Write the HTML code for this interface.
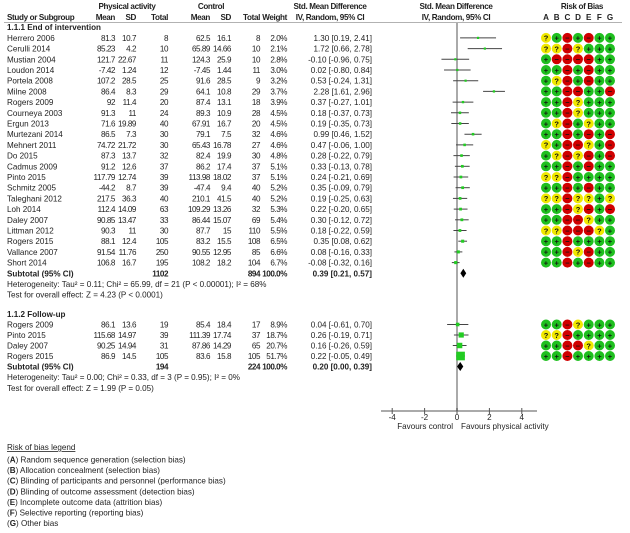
<!DOCTYPE html>
<html><head><meta charset="utf-8"><style>
html,body{margin:0;padding:0;background:#fff;}
svg{display:block;font-family:"Liberation Sans",Arial,sans-serif;}
text{font-size:8.1px;fill:#222;}
.b{font-weight:bold;}
.n{letter-spacing:-0.45px;}
.h{letter-spacing:-0.35px;}
</style></head><body>
<svg id="plot" width="630" height="533" viewBox="0 0 630 533" xmlns="http://www.w3.org/2000/svg"></svg>
<script>
const studies1 = ["Herrero 2006","Cerulli 2014","Mustian 2004","Loudon 2014","Portela 2008","Milne 2008","Rogers 2009","Courneya 2003","Ergun 2013","Murtezani 2014","Mehnert 2011","Do 2015","Cadmus 2009","Pinto 2015","Schmitz 2005","Taleghani 2012","Loh 2014","Daley 2007","Littman 2012","Rogers 2015","Vallance 2007","Short 2014"];
const paMean1 = ["81.3","85.23","121.7","-7.42","107.2","86.4","92","91.3","71.6","86.5","74.72","87.3","91.2","117.79","-44.2","217.5","112.4","90.85","90.3","88.1","91.54","106.8"];
const paSD1 = ["10.7","4.2","22.67","1.24","28.5","8.3","11.4","11","19.89","7.3","21.72","13.7","12.6","12.74","8.7","36.3","14.09","13.47","11","12.4","11.76","16.7"];
const paN1 = [8,10,11,12,25,29,20,24,40,30,30,32,37,39,39,40,63,33,30,105,250,195];
const cMean1 = ["62.5","65.89","124.3","-7.45","91.6","64.1","87.4","89.3","67.91","79.1","65.43","82.4","86.2","113.98","-47.4","210.1","109.29","86.44","87.7","83.2","90.55","108.2"];
const cSD1 = ["16.1","14.66","25.9","1.44","28.5","10.8","13.1","10.9","16.7","7.5","16.78","19.9","17.4","18.02","9.4","41.5","13.26","15.07","15","15.5","12.95","18.2"];
const cN1 = [8,10,10,11,9,29,18,28,20,32,27,30,37,37,40,40,32,69,110,108,85,104];
const weight1 = [2.0,2.1,2.8,3.0,3.2,3.7,3.9,4.5,4.5,4.6,4.6,4.8,5.1,5.1,5.2,5.2,5.3,5.4,5.5,6.5,6.6,6.7];
const smd1 = [1.30,1.72,-0.10,0.02,0.53,2.28,0.37,0.18,0.19,0.99,0.47,0.28,0.33,0.24,0.35,0.19,0.22,0.30,0.18,0.35,0.08,-0.08];
const lo1 = [0.19,0.66,-0.96,-0.80,-0.24,1.61,-0.27,-0.37,-0.35,0.46,-0.06,-0.22,-0.13,-0.21,-0.09,-0.25,-0.20,-0.12,-0.22,0.08,-0.16,-0.32];
const hi1 = [2.41,2.78,0.75,0.84,1.31,2.96,1.01,0.73,0.73,1.52,1.00,0.79,0.78,0.69,0.79,0.63,0.65,0.72,0.59,0.62,0.33,0.16];
const rob1 = ["?+-+-++","??-?+++","+----++","++-+-++","+?-+-++","++--++-","++-?+++","++-?+++","+?-+?++","++-+-+-","?+--?+-","+?-?-+-","++-+-++","??-++++","++-+-++","??-??+?","++-?-+-","++--?++","??---?+","++-++++","++-?-++","++-+-++"];
const total1 = {smd:0.39, lo:0.21, hi:0.57, pa:"1102", c:"894"};

const studies2 = ["Rogers 2009","Pinto 2015","Daley 2007","Rogers 2015"];
const paMean2 = ["86.1","115.68","90.25","86.9"];
const paSD2 = ["13.6","14.97","14.94","14.5"];
const paN2 = [19,39,31,105];
const cMean2 = ["85.4","111.39","87.86","83.6"];
const cSD2 = ["18.4","17.74","14.29","15.8"];
const cN2 = [17,37,65,105];
const weight2 = [8.9,18.7,20.7,51.7];
const smd2 = [0.04,0.26,0.16,0.22];
const lo2 = [-0.61,-0.19,-0.26,-0.05];
const hi2 = [0.70,0.71,0.59,0.49];
const rob2 = ["++-?+++","??-++++","++--?++","++-++++"];
const total2 = {smd:0.20, lo:0.00, hi:0.39, pa:"194", c:"224"};

const axisTicks = [-4,-2,0,2,4];
const robLetters = ["A","B","C","D","E","F","G"];
const legendItems = [["A","Random sequence generation (selection bias)"],["B","Allocation concealment (selection bias)"],["C","Blinding of participants and personnel (performance bias)"],["D","Blinding of outcome assessment (detection bias)"],["E","Incomplete outcome data (attrition bias)"],["F","Selective reporting (reporting bias)"],["G","Other bias"]];

const svg = document.getElementById('plot');
const NS = "http://www.w3.org/2000/svg";
function mk(tag, attrs, txt){ const e=document.createElementNS(NS,tag); for(const k in attrs) e.setAttribute(k,attrs[k]); if(txt!==undefined) e.textContent=txt; svg.appendChild(e); return e; }
function xs(v){ return 457 + v*16.2; }
function fmt(v){ return v.toFixed(2); }
function ci(s,l,h){ return fmt(s)+" ["+fmt(l)+", "+fmt(h)+"]"; }
function txt(x,y,s,anchor,name,cls){ const e=mk('text',{x:x,y:y,'text-anchor':anchor||'start'},s); if(cls) e.setAttribute('class',cls);
  
   return e; }
const colX = {pm:115, psd:136, pn:168, cm:210, csd:231, cn:260, w:287, ci:372};
const robX = [546,556.7,567.4,578,588.7,599.4,610];
const robColor = {"+":"#1fbf1f","-":"#d00000","?":"#f0e800"};
const robSym = {"+":"+","-":"\u2212","?":"?"};

txt(127,9,"Physical activity","middle","header-physical-activity","b h");
txt(211,9,"Control","middle","header-control","b h");
txt(330,9,"Std. Mean Difference","middle","header-smd","b h");
txt(456,9,"Std. Mean Difference","middle","header-smd-plot","b h");
txt(582,9,"Risk of Bias","middle","header-risk-of-bias","b h");
txt(7,20,"Study or Subgroup","start","header-study","b h");
[["Mean",colX.pm],["SD",colX.psd],["Total",colX.pn],["Mean",colX.cm],["SD",colX.csd],["Total",colX.cn],["Weight",colX.w]].forEach(h=>txt(h[1],20,h[0],"end","header-col","b h"));
txt(330,20,"IV, Random, 95% CI","middle","header-iv","b h");
txt(456,20,"IV, Random, 95% CI","middle","header-iv-plot","b h");
robLetters.forEach((L,i)=>txt(robX[i],20,L,"middle","rob-col-"+L.toLowerCase(),"b"));
const hl = mk('line',{x1:4,y1:22.5,x2:622,y2:22.5,stroke:'#999','stroke-width':0.8});



const zl = mk('line',{x1:xs(0),y1:23,x2:xs(0),y2:411,stroke:'#aaa','stroke-width':2});



function drawGroup(y0, step, title, st, pm, psd, pn, cm, csd, cn, w, s, l, h, rob, tot, het, test){
  txt(7,y0+3,title,"start","subgroup-title","b");
  st.forEach((name,i)=>{
    const y = y0 + step*(i+1);
    const b = y+3;
    txt(7,b,name,"start","study-name");
    txt(colX.pm,b,pm[i],"end","pa-mean","n");
    txt(colX.psd,b,psd[i],"end","pa-sd","n");
    txt(colX.pn,b,String(pn[i]),"end","pa-total","n");
    txt(colX.cm,b,cm[i],"end","control-mean","n");
    txt(colX.csd,b,csd[i],"end","control-sd","n");
    txt(colX.cn,b,String(cn[i]),"end","control-total","n");
    txt(colX.w,b,w[i].toFixed(1)+"%","end","weight","n");
    txt(colX.ci,b,ci(s[i],l[i],h[i]),"end","smd-ci");
    const ln = mk('line',{x1:xs(l[i]),y1:y,x2:xs(h[i]),y2:y,stroke:'#444','stroke-width':1});
    
    
    const sz = Math.max(2.2, 1.2*Math.sqrt(w[i]));
    const sq = mk('rect',{x:xs(s[i])-sz/2,y:y-sz/2,width:sz,height:sz,fill:'#22cc22'});
    
    
    for(let k=0;k<7;k++){
      const c = rob[i][k];
      const cc = mk('circle',{cx:robX[k],cy:y,r:5,fill:robColor[c]});
      
      
      const t = mk('text',{x:robX[k],y:y+2.8,'text-anchor':'middle',style:'font-size:7.5px;font-weight:bold;fill:#111'},robSym[c]);
      
      
    }
  });
  const yt = y0 + step*(st.length+1);
  txt(7,yt+3,"Subtotal (95% CI)","start","subtotal-label","b");
  txt(colX.pn,yt+3,tot.pa,"end","subtotal-pa","b n");
  txt(colX.cn,yt+3,tot.c,"end","subtotal-control","b n");
  txt(colX.w,yt+3,"100.0%","end","subtotal-weight","b n");
  txt(colX.ci,yt+3,ci(tot.smd,tot.lo,tot.hi),"end","subtotal-ci","b");
  const d = mk('polygon',{points:`${xs(tot.lo)},${yt} ${xs(tot.smd)},${yt-4.5} ${xs(tot.hi)},${yt} ${xs(tot.smd)},${yt+4.5}`,fill:'#000'});
  
  
  txt(7,yt+13.7,het,"start","heterogeneity");
  txt(7,yt+24.4,test,"start","overall-effect");
}
drawGroup(27.2,10.7,"1.1.1 End of intervention",studies1,paMean1,paSD1,paN1,cMean1,cSD1,cN1,weight1,smd1,lo1,hi1,rob1,total1,
  "Heterogeneity: Tau\u00b2 = 0.11; Chi\u00b2 = 65.99, df = 21 (P < 0.00001); I\u00b2 = 68%","Test for overall effect: Z = 4.23 (P < 0.0001)");
drawGroup(314,10.5,"1.1.2 Follow-up",studies2,paMean2,paSD2,paN2,cMean2,cSD2,cN2,weight2,smd2,lo2,hi2,rob2,total2,
  "Heterogeneity: Tau\u00b2 = 0.00; Chi\u00b2 = 0.33, df = 3 (P = 0.95); I\u00b2 = 0%","Test for overall effect: Z = 1.99 (P = 0.05)");

const ay = 411;
const ax = mk('line',{x1:381,y1:ay,x2:537,y2:ay,stroke:'#555','stroke-width':1});


axisTicks.forEach(t=>{
  const tk = mk('line',{x1:xs(t),y1:ay-3,x2:xs(t),y2:ay+3,stroke:'#555','stroke-width':1});
  
  
  txt(xs(t),ay+9,String(t),"middle","x-tick-label");
});
txt(453,ay+18,"Favours control","end","favours-control");
txt(461,ay+18,"Favours physical activity","start","favours-physical-activity");

const lt = txt(7,450,"Risk of bias legend","start","rob-legend-title");
lt.setAttribute('text-decoration','underline');
legendItems.forEach((it,i)=>{
  const e = mk('text',{x:7,y:462.5+i*10.6});
  
  
  const t1=document.createElementNS(NS,'tspan'); t1.textContent="("; e.appendChild(t1);
  const t2=document.createElementNS(NS,'tspan'); t2.setAttribute('font-weight','bold'); t2.textContent=it[0]; e.appendChild(t2);
  const t3=document.createElementNS(NS,'tspan'); t3.textContent=") "+it[1]; e.appendChild(t3);
});
</script>
</body></html>
